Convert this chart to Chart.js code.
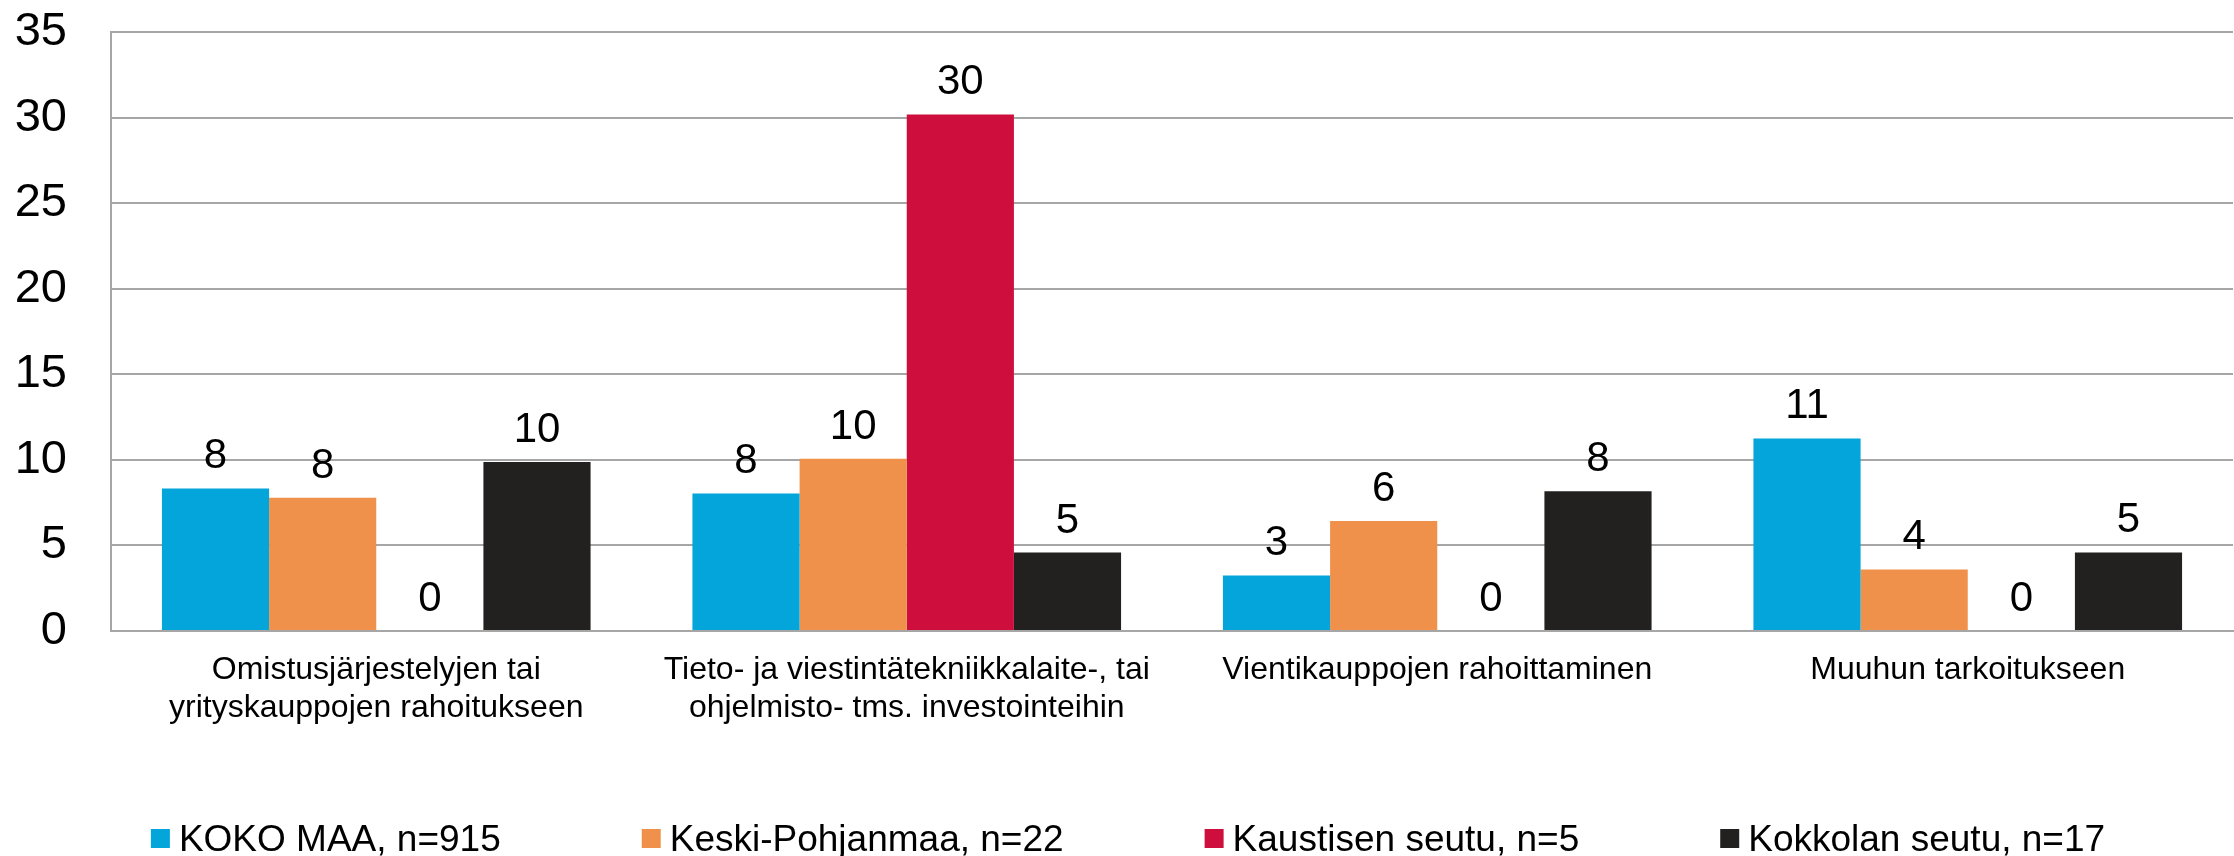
<!DOCTYPE html>
<html><head><meta charset="utf-8">
<script src="https://cdn.jsdelivr.net/npm/chart.js@4.4.0/dist/chart.umd.min.js"></script>
<style>html,body{margin:0;padding:0;background:#fff;overflow:hidden}</style>
</head><body>
<canvas id="c" width="2234" height="856"></canvas>
<script>
const categories = [
  ["Omistusjärjestelyjen tai", "yrityskauppojen rahoitukseen"],
  ["Tieto- ja viestintätekniikkalaite-, tai", "ohjelmisto- tms. investointeihin"],
  ["Vientikauppojen rahoittaminen"],
  ["Muuhun tarkoitukseen"]
];
const seriesNames = ["KOKO MAA, n=915", "Keski-Pohjanmaa, n=22", "Kaustisen seutu, n=5", "Kokkolan seutu, n=17"];
const kokoMaa = [8.33, 8.04, 3.25, 11.25];
const keskiPohjanmaa = [7.78, 10.07, 6.43, 3.6];
const kaustinen = [0, 30.18, 0, 0];
const kokkola = [9.88, 4.58, 8.17, 4.59];
const yMin = 0, yMax = 35, yStep = 5;
const colors = ['#03A5DA', '#F0914B', '#CE0F3D', '#22211F'];
const FONT = "'Liberation Sans', Arial, sans-serif";

const seriesValues = [kokoMaa, keskiPohjanmaa, kaustinen, kokkola];

const valueLabels = {
  id: 'valueLabels',
  afterDatasetsDraw(chart) {
    const ctx = chart.ctx;
    ctx.save();
    ctx.font = "42px " + FONT;
    ctx.fillStyle = '#000';
    ctx.textAlign = 'center';
    ctx.textBaseline = 'alphabetic';
    chart.data.datasets.forEach((ds, i) => {
      const meta = chart.getDatasetMeta(i);
      meta.data.forEach((bar, j) => {
        ctx.fillText(String(Math.round(ds.data[j])), bar.x, bar.y - 20);
      });
    });
    ctx.restore();
  }
};

const customLegend = {
  id: 'customLegend',
  afterDraw(chart) {
    const ctx = chart.ctx;
    ctx.save();
    ctx.font = "37px " + FONT;
    const box = 19, gap = 9, spacing = 141;
    const items = chart.data.datasets.map(ds => ({text: ds.label, color: ds.backgroundColor, w: ctx.measureText(ds.label).width}));
    let total = items.reduce((s, it) => s + box + gap + it.w, 0) + spacing * (items.length - 1);
    let x = 1128 - total / 2;
    ctx.textBaseline = 'alphabetic';
    ctx.textAlign = 'left';
    items.forEach(it => {
      ctx.fillStyle = it.color;
      ctx.fillRect(x, 829, box, box);
      ctx.fillStyle = '#000';
      ctx.fillText(it.text, x + box + gap, 851);
      x += box + gap + it.w + spacing;
    });
    ctx.restore();
  }
};

new Chart(document.getElementById('c'), {
  type: 'bar',
  data: {
    labels: categories,
    datasets: seriesNames.map((name, i) => ({
      label: name,
      data: seriesValues[i],
      backgroundColor: colors[i],
      borderWidth: 0,
      categoryPercentage: 0.808,
      barPercentage: 1.0
    }))
  },
  options: {
    responsive: false,
    animation: false,
    devicePixelRatio: 1,
    layout: { padding: { top: 32, right: 1, bottom: 129, left: 0 } },
    plugins: { legend: { display: false }, tooltip: { enabled: false } },
    scales: {
      x: {
        grid: { display: false, drawTicks: false },
        border: { display: true, color: '#A6A6A6', width: 2 },
        ticks: { color: '#000', font: { family: FONT, size: 32, lineHeight: 1.19 }, padding: 20, maxRotation: 0, autoSkip: false },
        afterFit(s) { s.height = 96; s.paddingLeft = 0; s.paddingRight = 0; }
      },
      y: {
        min: yMin, max: yMax,
        grid: { color: '#A6A6A6', lineWidth: 2, drawTicks: false },
        border: { display: true, color: '#A6A6A6', width: 2 },
        ticks: { stepSize: yStep, color: '#000', font: { family: FONT, size: 47 }, padding: 44 },
        afterFit(s) { s.width = 111; s.paddingTop = 0; s.paddingBottom = 0; }
      }
    }
  },
  plugins: [valueLabels, customLegend]
});
</script>
</body></html>
